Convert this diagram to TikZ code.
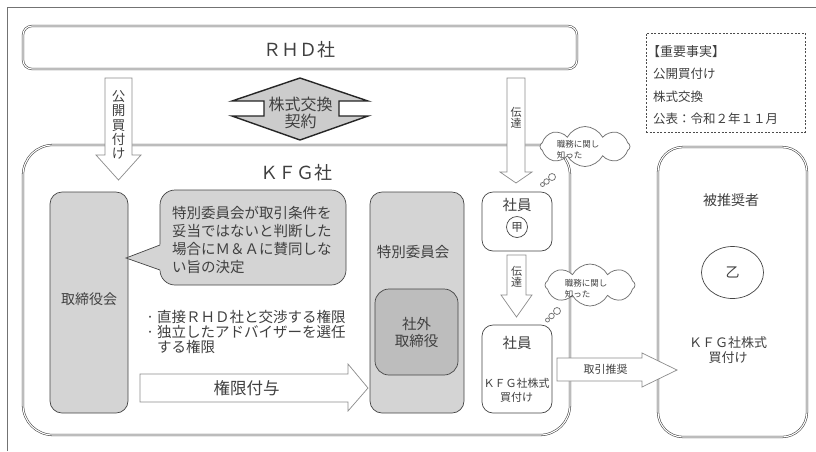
\documentclass[tikz,border=0pt]{standalone}
\usepackage{fontspec}
\setmainfont{Noto Sans CJK JP}
\usetikzlibrary{shapes.geometric,shapes.symbols}
\newcommand\fsz[2]{\fontsize{#1}{#2}\selectfont}
\definecolor{txt}{HTML}{404040}
\definecolor{boxgray}{HTML}{D4D4D4}
\definecolor{innergray}{HTML}{BDBDBD}
\definecolor{edge}{HTML}{454545}
\definecolor{arrowedge}{HTML}{8C8C8C}
\begin{document}
\begin{tikzpicture}[x=1pt,y=-1pt,
  every node/.style={text=txt, inner sep=0pt},
  dblbox/.style={draw=black!75, double=white, double distance=1.1pt, line width=0.55pt},
  graybox/.style={draw=edge, fill=boxgray, line width=0.7pt, rounded corners=12},
  whitebox/.style={draw=edge, fill=white, line width=0.7pt, rounded corners=11},
  blockarrow/.style={draw=arrowedge, fill=white, line width=0.7pt, line join=miter},
  thought/.style={cloud, cloud puffs=8, cloud puff arc=125, aspect=2.2, draw=black!55, fill=white, line width=0.75pt},
  bub/.style={circle, draw=black!55, fill=white, line width=0.75pt}
]
\useasboundingbox (0,0) rectangle (816,451);
\fill[white] (0,0) rectangle (816,451);
% outer frame
\draw[black!55, line width=0.7pt] (7,451) -- (7,7) -- (816,7);

% RHD
\node[dblbox, rounded corners=9, minimum width=554pt, minimum height=43pt] (rhd) at (300,47.5) {};
\node[font=\fsz{18}{20}] (rhdt) at (299,50) {ＲＨＤ社};

% KFG
\node[dblbox, rounded corners=30, minimum width=547pt, minimum height=290pt] (kfg) at (296.5,290) {};
\node[font=\fsz{18}{20}] (kfgt) at (296,173) {ＫＦＧ社};

% recommended person
\node[dblbox, rounded corners=25, minimum width=149pt, minimum height=290pt] (hsu) at (732.5,292) {};
\node[font=\fsz{14}{16}] (hsut) at (731,200) {被推奨者};
\node[ellipse, draw=edge, line width=0.7pt, minimum width=62pt, minimum height=52pt, font=\fsz{14}{16}] (otsu) at (732.5,272.5) {乙};
\node[font=\fsz{13}{15.5}, align=center] (hsubuy) at (728,350) {ＫＦＧ社株式\\買付け};

% important facts
\node[draw=black!70, dash pattern=on 2pt off 1.6pt, line width=0.7pt, minimum width=159pt, minimum height=99pt] (fact) at (725.5,82.5) {};
\node[anchor=west, font=\fsz{13}{15}] (f1) at (647,52) {【重要事実】};
\node[anchor=west, font=\fsz{12.5}{15}] (f2) at (653,74) {公開買付け};
\node[anchor=west, font=\fsz{12.5}{15}] (f3) at (653,97) {株式交換};
\node[anchor=west, font=\fsz{12.5}{15}] (f4) at (653,119) {公表：令和２年１１月};

% board
\node[graybox, minimum width=78pt, minimum height=221pt] (board) at (89,302.5) {};
\node[font=\fsz{14}{16}] (boardt) at (89,299) {取締役会};

% speech bubble
\draw[draw=edge, fill=boxgray, line width=0.7pt, rounded corners=15] (160,190) rectangle (346,285);
\fill[boxgray] (162,244) -- (126,258) -- (162,271) -- cycle;
\draw[edge, line width=0.7pt, line join=miter] (160,245) -- (126,258) -- (160,270);
\node[anchor=west, align=left, font=\fsz{14.5}{18}] (cond) at (172,239.5)
  {特別委員会が取引条件を\\妥当ではないと判断した\\場合にＭ＆Ａに賛同しな\\い旨の決定};

% authority list
\node[anchor=west, align=left, font=\fsz{14.5}{15}] (auth) at (146,332)
  {\makebox[11pt][l]{·}直接ＲＨＤ社と交渉する権限\\\makebox[11pt][l]{·}独立したアドバイザーを選任\\\hspace*{11pt}する権限};

% special committee
\node[graybox, minimum width=94pt, minimum height=221pt] (spc) at (417,302.5) {};
\node[font=\fsz{14.5}{16}] (spct) at (413,252) {特別委員会};
\node[draw=edge, fill=innergray, line width=0.7pt, rounded corners=14, minimum width=83pt, minimum height=86pt, font=\fsz{14.5}{17}, align=center] (outdir) at (416.5,332) {社外\\取締役};

% grant arrow
\draw[blockarrow] (140,374) -- (348,374) -- (348,364) -- (368,388) -- (348,411) -- (348,402) -- (140,402) -- cycle;
\node[font=\fsz{16.5}{18}] (grant) at (246.5,388.5) {権限付与};

% employees
\node[whitebox, minimum width=70pt, minimum height=59pt] (emp1) at (517,221.5) {};
\node[font=\fsz{14.5}{16}] (emp1t) at (517,205) {社員};
\node[circle, draw=edge, line width=0.7pt, minimum size=21pt, font=\fsz{11.5}{13}] (ko) at (517,227) {甲};

\node[whitebox, minimum width=70pt, minimum height=88pt] (emp2) at (517,369) {};
\node[font=\fsz{14.5}{16}] (emp2t) at (517,343) {社員};
\node[font=\fsz{11}{14.5}, align=center] (emp2b) at (516.5,390.5) {ＫＦＧ社株式\\買付け};

% public tender offer arrow
\draw[blockarrow] (105,78) -- (132,78) -- (132,155) -- (141,155) -- (118.5,180) -- (96,155) -- (105,155) -- cycle;
\node[font=\fsz{13.5}{14.3}, align=center] (tob) at (118.5,125) {公\\開\\買\\付\\け};

% share exchange double arrow
\draw[fill=black!20, draw=black!85, line width=1.4pt, line join=miter]
  (300,78) -- (368,101) -- (339,101) -- (339,116) -- (368,116) -- (300,140) -- (232,116) -- (264,116) -- (264,101) -- (232,101) -- cycle;
\node[font=\fsz{16}{17}, align=center] (sx) at (300.5,112.5) {株式交換\\契約};

% transmission arrows
\draw[blockarrow] (507,78) -- (525,78) -- (525,172) -- (532,172) -- (516,183) -- (500,172) -- (507,172) -- cycle;
\node[font=\fsz{11}{11}, align=center] (tr1) at (516,117.5) {伝\\達};
\draw[blockarrow] (507,255) -- (526,255) -- (526,295) -- (532,295) -- (516.5,317) -- (501,295) -- (507,295) -- cycle;
\node[font=\fsz{11}{11.5}, align=center] (tr2) at (516.5,277) {伝\\達};

% clouds
\node[thought, minimum width=90pt, minimum height=40pt] (cl1) at (585,146.5) {};
\node[bub, minimum size=7pt] (b11) at (552,177) {};
\node[bub, minimum size=5.5pt] (b12) at (546.5,181.5) {};
\node[bub, minimum size=4pt] (b13) at (542.5,184.5) {};
\node[font=\fsz{8.5}{11}, align=left] (cl1t) at (578,150) {職務に関し\\知った};

\node[thought, minimum width=90pt, minimum height=42pt] (cl2) at (590,285) {};
\node[bub, minimum size=7pt] (b21) at (557,311) {};
\node[bub, minimum size=5.5pt] (b22) at (551.5,316) {};
\node[bub, minimum size=4pt] (b23) at (547.5,320) {};
\node[font=\fsz{8.5}{11}, align=left] (cl2t) at (586,289) {職務に関し\\知った};

% recommendation arrow
\draw[blockarrow] (557,358) -- (642,358) -- (642,353) -- (677,370) -- (642,387) -- (642,381) -- (557,381) -- cycle;
\node[font=\fsz{11}{13}] (rec) at (605.5,369.5) {取引推奨};
\end{tikzpicture}
\end{document}
